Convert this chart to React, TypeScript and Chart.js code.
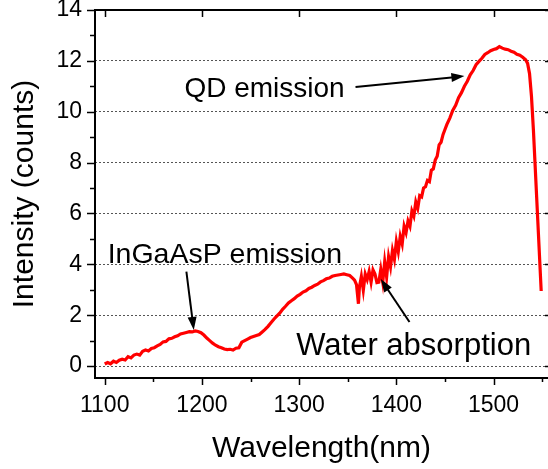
import React, { useEffect, useRef } from "react";
import { Chart, registerables } from "chart.js";

Chart.register(...registerables);

const wavelengths = [
  1100, 1103, 1106, 1109, 1112, 1115, 1118, 1121, 1124, 1127, 1130, 1133, 1136, 1139, 1142, 1145, 1148, 1151, 1154, 1157,
  1160, 1163, 1166, 1169, 1172, 1175, 1178, 1181, 1184, 1187, 1190, 1193, 1196, 1199, 1202, 1205, 1208, 1211, 1214, 1217,
  1220, 1223, 1226, 1229, 1232, 1235, 1238, 1241, 1244, 1247, 1250, 1253, 1256, 1259, 1262, 1265, 1268, 1271, 1274, 1277,
  1280, 1283, 1286, 1289, 1292, 1295, 1298, 1301, 1304, 1307, 1310, 1313, 1316, 1319, 1322, 1325, 1328, 1331, 1334, 1337,
  1340, 1343, 1346, 1349, 1352, 1355, 1357, 1359, 1361, 1362, 1364, 1366, 1368, 1370, 1372, 1374, 1376, 1378, 1380, 1382,
  1384, 1386, 1388, 1390, 1392, 1394, 1396, 1398, 1400, 1402, 1404, 1406, 1408, 1410, 1412, 1414, 1416, 1418, 1420, 1422,
  1424, 1426, 1428, 1430, 1432, 1434, 1436, 1438, 1440, 1442, 1444, 1446, 1448, 1450, 1452, 1455, 1458, 1461, 1464, 1467,
  1470, 1473, 1476, 1479, 1482, 1485, 1488, 1491, 1494, 1497, 1500, 1503, 1506, 1509, 1512, 1515, 1518, 1521, 1524, 1527,
  1530, 1533, 1535, 1537, 1539, 1541, 1549,
];

const intensity = [
  0.08, 0.14, 0.09, 0.19, 0.14, 0.23, 0.27, 0.24, 0.37, 0.32, 0.43, 0.47, 0.43, 0.58, 0.63, 0.59, 0.69, 0.72, 0.79, 0.85,
  0.95, 0.97, 1.07, 1.09, 1.15, 1.19, 1.26, 1.29, 1.32, 1.35, 1.34, 1.38, 1.36, 1.31, 1.22, 1.10, 1.00, 0.90, 0.82, 0.76,
  0.72, 0.67, 0.65, 0.66, 0.63, 0.70, 0.72, 0.94, 1.00, 1.06, 1.12, 1.16, 1.20, 1.24, 1.34, 1.44, 1.56, 1.70, 1.84, 1.96,
  2.08, 2.23, 2.35, 2.48, 2.57, 2.65, 2.75, 2.82, 2.91, 2.96, 3.05, 3.10, 3.17, 3.22, 3.31, 3.36, 3.43, 3.46, 3.53, 3.56,
  3.58, 3.60, 3.62, 3.59, 3.56, 3.46, 3.38, 3.20, 2.45, 3.10, 3.52, 2.98, 3.62, 3.40, 3.72, 3.30, 3.78, 3.62, 3.28, 3.30,
  3.80, 3.30, 4.10, 3.50, 4.30, 3.90, 4.55, 4.20, 4.90, 4.50, 5.10, 4.80, 5.50, 5.25, 5.70, 5.50, 6.10, 5.90, 6.45, 6.20,
  6.70, 6.65, 7.00, 7.05, 7.30, 7.25, 7.70, 7.75, 8.10, 8.25, 8.70, 8.80, 9.10, 9.30, 9.50, 9.75, 10.05, 10.25, 10.55, 10.75,
  11.00, 11.20, 11.45, 11.62, 11.85, 11.98, 12.10, 12.25, 12.32, 12.40, 12.45, 12.48, 12.56, 12.50, 12.46, 12.44, 12.38, 12.34, 12.26, 12.22,
  12.14, 12.04, 11.90, 11.50, 10.60, 9.28, 2.95,
];

const xTickValues = [1100, 1200, 1300, 1400, 1500];
const xMinorTickValues = [1150, 1250, 1350, 1450, 1550];
const yTickValues = [0, 2, 4, 6, 8, 10, 12, 14];
const yMinorTickValues = [1, 3, 5, 7, 9, 11, 13];

const annotationLabels = ["QD emission", "InGaAsP emission", "Water absorption"];
const annotationTextAt = [
  [1182, 10.58],
  [1103, 4.05],
  [1297, 0.43],
];
const annotationFontSizes = [28, 28.5, 31];
const arrowFrom = [
  [1358, 10.97],
  [1184, 3.71],
  [1413.5, 1.73],
];
const arrowTo = [
  [1470, 11.4],
  [1191.6, 1.42],
  [1384, 3.42],
];

const FONT = "'Liberation Sans', Arial, Helvetica, sans-serif";

const framePlugin = {
  id: "frameAndAnnotations",
  afterDatasetsDraw(chart: any) {
    const { ctx, scales } = chart;
    const x = scales.x;
    const y = scales.y;
    ctx.save();
    ctx.fillStyle = "#000";
    ctx.strokeStyle = "#000";
    ctx.textBaseline = "alphabetic";
    ctx.textAlign = "left";
    annotationLabels.forEach((label, i) => {
      ctx.font = `${annotationFontSizes[i]}px ${FONT}`;
      ctx.fillText(label, x.getPixelForValue(annotationTextAt[i][0]), y.getPixelForValue(annotationTextAt[i][1]));
      const x0 = x.getPixelForValue(arrowFrom[i][0]);
      const y0 = y.getPixelForValue(arrowFrom[i][1]);
      const x1 = x.getPixelForValue(arrowTo[i][0]);
      const y1 = y.getPixelForValue(arrowTo[i][1]);
      const ang = Math.atan2(y1 - y0, x1 - x0);
      const headLen = 13;
      const headW = 4.5;
      ctx.lineWidth = 2;
      ctx.beginPath();
      ctx.moveTo(x0, y0);
      ctx.lineTo(x1 - Math.cos(ang) * headLen * 0.8, y1 - Math.sin(ang) * headLen * 0.8);
      ctx.stroke();
      ctx.beginPath();
      ctx.moveTo(x1, y1);
      ctx.lineTo(
        x1 - Math.cos(ang) * headLen - Math.sin(ang) * headW,
        y1 - Math.sin(ang) * headLen + Math.cos(ang) * headW
      );
      ctx.lineTo(
        x1 - Math.cos(ang) * headLen + Math.sin(ang) * headW,
        y1 - Math.sin(ang) * headLen - Math.cos(ang) * headW
      );
      ctx.closePath();
      ctx.fill();
    });
    ctx.restore();
  },
  afterDraw(chart: any) {
    const { ctx, chartArea: a, scales } = chart;
    const x = scales.x;
    const y = scales.y;
    ctx.save();
    ctx.strokeStyle = "#000";
    ctx.lineWidth = 2;
    ctx.strokeRect(a.left, a.top, a.right - a.left + 3, a.bottom - a.top);
    ctx.lineWidth = 1.5;
    ctx.beginPath();
    xTickValues.forEach((v) => {
      const px = Math.round(x.getPixelForValue(v)) + 0.5;
      ctx.moveTo(px, a.bottom);
      ctx.lineTo(px, a.bottom + 7);
      ctx.moveTo(px, a.top);
      ctx.lineTo(px, a.top + 7);
    });
    xMinorTickValues.forEach((v) => {
      const px = Math.round(x.getPixelForValue(v)) + 0.5;
      ctx.moveTo(px, a.bottom);
      ctx.lineTo(px, a.bottom + 4);
    });
    yTickValues.forEach((v) => {
      const py = Math.round(y.getPixelForValue(v)) + 0.5;
      ctx.moveTo(a.left - 8, py);
      ctx.lineTo(a.left, py);
      ctx.moveTo(a.right - 3, py);
      ctx.lineTo(a.right, py);
    });
    yMinorTickValues.forEach((v) => {
      const py = Math.round(y.getPixelForValue(v)) + 0.5;
      ctx.moveTo(a.left - 5, py);
      ctx.lineTo(a.left, py);
    });
    ctx.stroke();
    ctx.restore();
  },
};

export default function App() {
  const canvasRef = useRef<HTMLCanvasElement | null>(null);

  useEffect(() => {
    if (!canvasRef.current) return;
    const chart = new Chart(canvasRef.current, {
      type: "line",
      data: {
        datasets: [
          {
            data: wavelengths.map((w, i) => ({ x: w, y: intensity[i] })),
            borderColor: "#ff0000",
            borderWidth: 3.2,
            pointRadius: 0,
            tension: 0,
            fill: false,
          },
        ],
      },
      options: {
        animation: false,
        responsive: false,
        devicePixelRatio: 1,
        layout: { padding: { top: 10, right: 0, left: 0, bottom: 0 } },
        plugins: { legend: { display: false }, tooltip: { enabled: false } },
        scales: {
          x: {
            type: "linear",
            min: 1090,
            max: 1556,
            afterBuildTicks: (s: any) => {
              s.ticks = xTickValues.map((v) => ({ value: v }));
            },
            afterFit: (s: any) => {
              s.height = 91;
              s.paddingLeft = 0;
              s.paddingRight = 0;
            },
            grid: { display: false, drawTicks: false },
            border: { display: false },
            ticks: {
              color: "#000",
              padding: 14,
              maxRotation: 0,
              font: { family: FONT, size: 23 },
              callback: (v: any) => String(v),
            },
            title: {
              display: true,
              text: "Wavelength(nm)",
              color: "#000",
              font: { family: FONT, size: 30 },
              padding: { top: 0, bottom: 2 },
            },
          },
          y: {
            type: "linear",
            min: -0.47,
            max: 14,
            afterBuildTicks: (s: any) => {
              s.ticks = yTickValues.map((v) => ({ value: v }));
            },
            afterFit: (s: any) => {
              s.width = 95;
              s.paddingTop = 0;
              s.paddingBottom = 0;
            },
            grid: {
              drawTicks: false,
              color: (c: any) => (c.tick && c.tick.value === 14 ? "rgba(0,0,0,0)" : "#555"),
              lineWidth: 1,
            },
            border: { display: false, dash: [2, 2] },
            ticks: {
              color: "#000",
              padding: 13,
              font: { family: FONT, size: 23 },
              callback: (v: any) => String(v),
            },
            title: {
              display: true,
              text: "Intensity (counts)",
              color: "#000",
              font: { family: FONT, size: 30 },
              padding: { top: 7, bottom: 0 },
            },
          },
        },
      },
      plugins: [framePlugin],
    } as any);
    return () => chart.destroy();
  }, []);

  return (
    <div style={{ position: "absolute", left: 0, top: 0, width: 548, height: 469, background: "#fff" }}>
      <canvas ref={canvasRef} width={548} height={469} />
    </div>
  );
}
